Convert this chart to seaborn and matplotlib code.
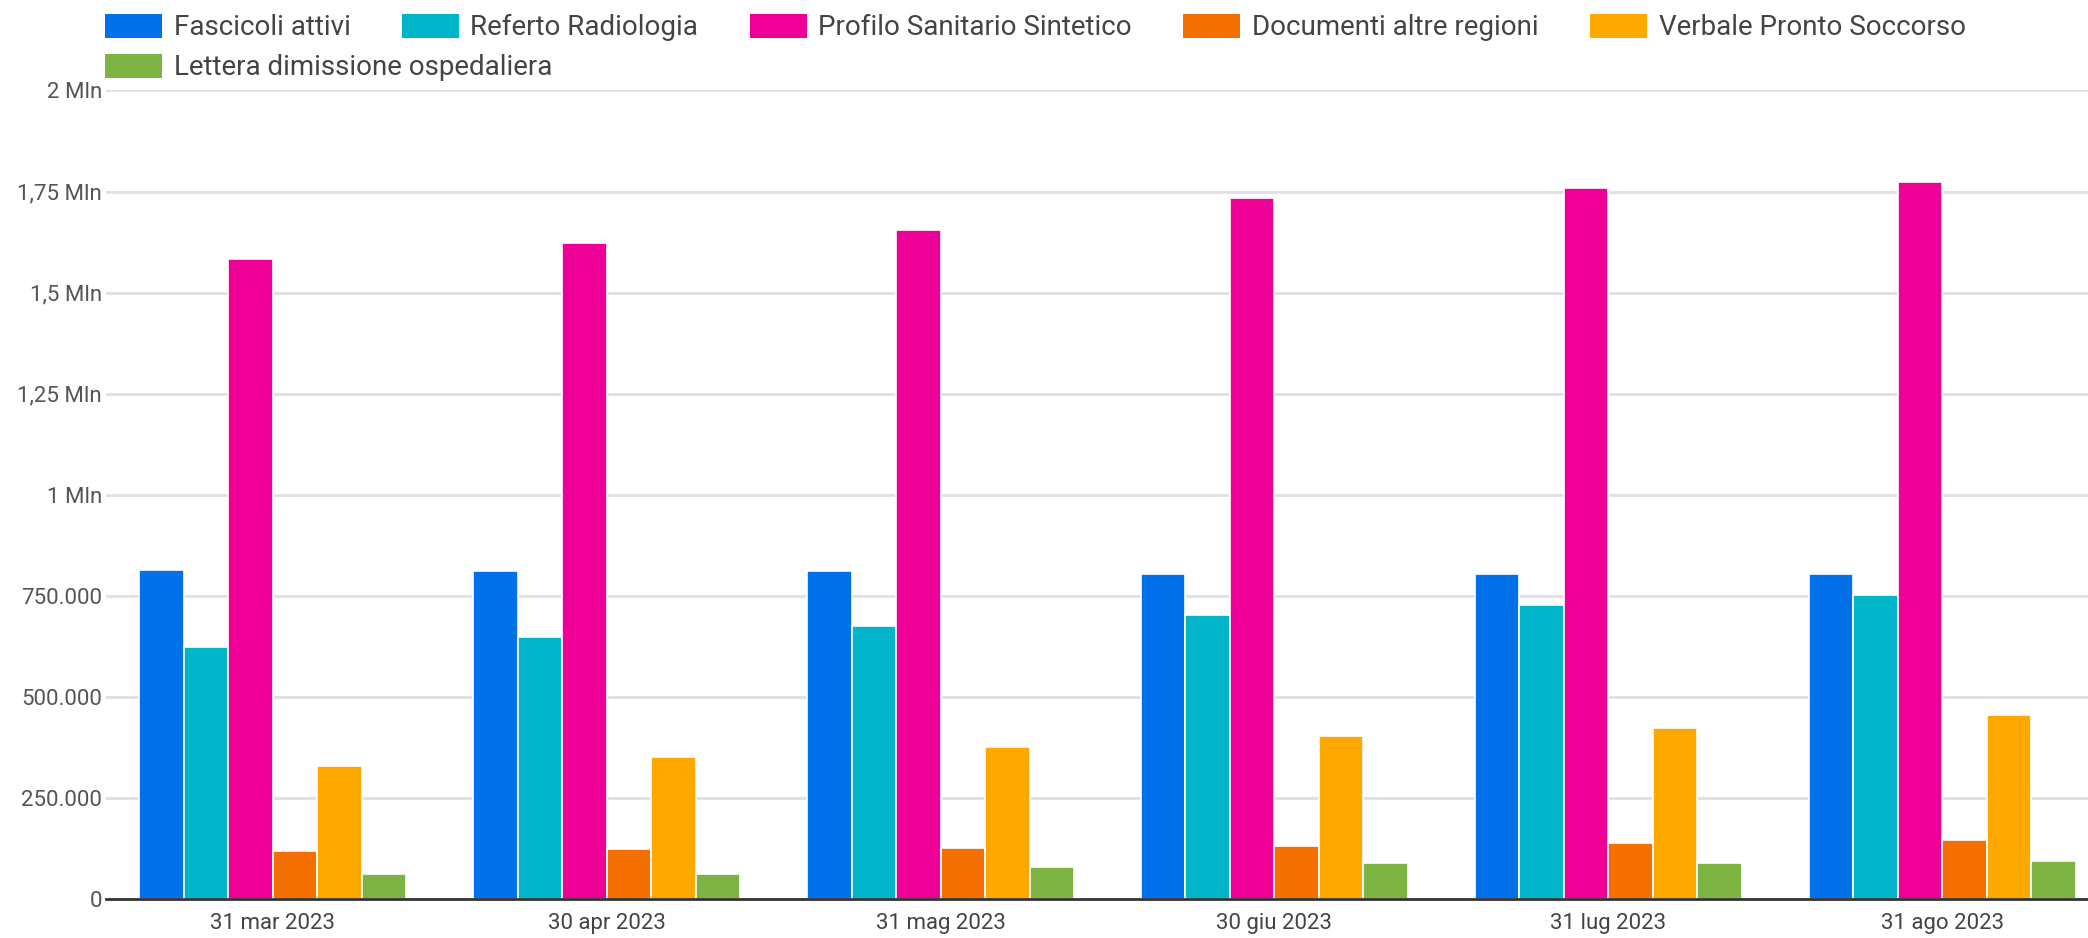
import numpy as np
import pandas as pd
import matplotlib
matplotlib.use("Agg")
import matplotlib.pyplot as plt
from matplotlib.patches import Patch
import seaborn as sns

# Monthly snapshot dates
dates = ["31 mar 2023", "30 apr 2023", "31 mag 2023", "30 giu 2023", "31 lug 2023", "31 ago 2023"]

# Series values (counts)
fascicoli_attivi = [815000, 811000, 811000, 803000, 803000, 803000]
referto_radiologia = [624000, 647000, 675000, 702000, 727000, 751000]
profilo_sanitario = [1583000, 1622000, 1655000, 1734000, 1759000, 1774000]
documenti_altre_regioni = [118000, 123000, 127000, 132000, 138000, 146000]
verbale_pronto_soccorso = [329000, 352000, 375000, 403000, 422000, 455000]
lettera_dimissione = [62000, 63000, 80000, 90000, 90000, 95000]

series_names = ["Fascicoli attivi", "Referto Radiologia", "Profilo Sanitario Sintetico",
                "Documenti altre regioni", "Verbale Pronto Soccorso",
                "Lettera dimissione ospedaliera"]
series_colors = ["#0071E9", "#00B4CA", "#EE0097", "#F46E00", "#FFA800", "#7CB342"]

# Y axis ticks and labels
y_ticks = [0, 250000, 500000, 750000, 1000000, 1250000, 1500000, 1750000, 2000000]
y_tick_labels = ["0", "250.000", "500.000", "750.000", "1 Mln", "1,25 Mln", "1,5 Mln",
                 "1,75 Mln", "2 Mln"]

all_values = [fascicoli_attivi, referto_radiologia, profilo_sanitario,
              documenti_altre_regioni, verbale_pronto_soccorso, lettera_dimissione]
rows = []
for name, vals in zip(series_names, all_values):
    for d, v in zip(dates, vals):
        rows.append({"data": d, "serie": name, "valore": v})
df = pd.DataFrame(rows)

sns.set_theme(style="white")
plt.rcParams["font.family"] = ["Roboto", "DejaVu Sans"]

fig = plt.figure(figsize=(20.88, 9.38), dpi=100)
W, H = 2088, 938
ax_left, ax_right = 106, 2109
ax_bottom, ax_top = 899, 90.5
ax = fig.add_axes([ax_left / W, 1 - ax_bottom / H, (ax_right - ax_left) / W,
                   (ax_bottom - ax_top) / H])

sns.barplot(data=df, x="data", y="valore", hue="serie", order=dates,
            hue_order=series_names, palette=series_colors, width=0.8,
            edgecolor="white", linewidth=1.2, ax=ax, legend=False, errorbar=None,
            saturation=1)

ax.set_ylim(0, 2000000)
ax.set_xlim(-0.5, len(dates) - 0.5)
ax.set_yticks(y_ticks)
ax.set_yticklabels(y_tick_labels)
ax.set_xlabel("")
ax.set_ylabel("")
ax.grid(axis="y", color="#e0e0e0", linewidth=2)
ax.set_axisbelow(True)
for side in ["top", "right", "left"]:
    ax.spines[side].set_visible(False)
ax.spines["bottom"].set_color("#333333")
ax.spines["bottom"].set_linewidth(2)
ax.spines["bottom"].set_zorder(5)
ax.tick_params(axis="y", length=0, pad=3, labelsize=16, labelcolor="#555555")
ax.tick_params(axis="x", length=0, pad=10, labelsize=16, labelcolor="#444444")

# Legend: first row with five entries, second row with the last one
handles = [Patch(facecolor=c, edgecolor="none") for c in series_colors]
leg_kw = dict(frameon=False, fontsize=20, handlelength=2.05, handleheight=1.0,
              handletextpad=0.42, columnspacing=1.85, labelcolor="#444444",
              borderaxespad=0, borderpad=0)
leg1 = fig.legend(handles[:5], series_names[:5], ncol=5, loc="center left",
                  bbox_to_anchor=(105 / W, 1 - 27.5 / H), **leg_kw)
leg2 = fig.legend(handles[5:], series_names[5:], ncol=1, loc="center left",
                  bbox_to_anchor=(105 / W, 1 - 67.5 / H), **leg_kw)

fig.savefig("out.png", dpi=100, facecolor="white")
